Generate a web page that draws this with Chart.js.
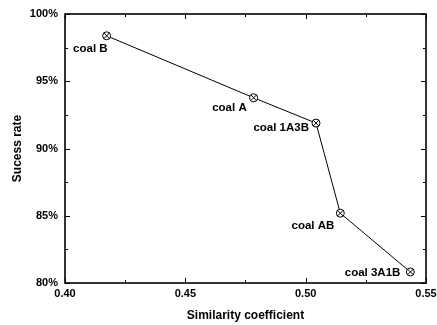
<!DOCTYPE html>
<html>
<head>
<meta charset="utf-8">
<script src="https://cdn.jsdelivr.net/npm/chart.js@4/dist/chart.umd.min.js"></script>
<style>
  html, body { margin: 0; padding: 0; background: #fff; }
  #grafico { display: block; }
</style>
</head>
<body>
<canvas id="grafico" width="437" height="325"></canvas>
<script>
// amostras de carvao
const nomes = ['coal B', 'coal A', 'coal 1A3B', 'coal AB', 'coal 3A1B'];
const similaridade = [0.4173, 0.4784, 0.5043, 0.5144, 0.5435];
const sucesso = [98.38, 93.77, 91.89, 85.19, 80.82];
const ticksX = [0.40, 0.45, 0.50, 0.55];
const ticksY = [80, 85, 90, 95, 100];

const familia = "'Liberation Sans', Arial, sans-serif";
const fonteTicks = { family: familia, size: 11, weight: 'bold' };
const fonteTitulo = { family: familia, size: 12, weight: 'bold' };

// onde cada rotulo fica em relacao ao ponto
const posRotulos = [
  { dx: 1, dy: 13 },
  { dx: -7, dy: 10 },
  { dx: -7, dy: 5 },
  { dx: -6, dy: 13 },
  { dx: -10, dy: 1 }
];

const pontos = similaridade.map((x, i) => ({ x: x, y: sucesso[i] }));

// moldura com marcas para dentro nos quatro lados
const moldura = {
  id: 'moldura',
  afterDatasetsDraw(chart) {
    const ctx = chart.ctx;
    const a = chart.chartArea;
    const sx = chart.scales.x, sy = chart.scales.y;
    ctx.save();
    ctx.strokeStyle = '#000';
    ctx.lineWidth = 1;
    ctx.beginPath();
    for (let i = 0; i < ticksX.length; i++) {
      const px = Math.round(sx.getPixelForValue(ticksX[i])) + 0.5;
      ctx.moveTo(px, a.bottom); ctx.lineTo(px, a.bottom - 5);
      ctx.moveTo(px, a.top); ctx.lineTo(px, a.top + 5);
      if (i < ticksX.length - 1) {
        const mx = Math.round(sx.getPixelForValue((ticksX[i] + ticksX[i + 1]) / 2)) + 0.5;
        ctx.moveTo(mx, a.bottom); ctx.lineTo(mx, a.bottom - 3);
        ctx.moveTo(mx, a.top); ctx.lineTo(mx, a.top + 3);
      }
    }
    for (let i = 0; i < ticksY.length; i++) {
      const py = Math.round(sy.getPixelForValue(ticksY[i])) + 0.5;
      ctx.moveTo(a.left, py); ctx.lineTo(a.left + 5, py);
      ctx.moveTo(a.right, py); ctx.lineTo(a.right - 5, py);
      if (i < ticksY.length - 1) {
        const my = Math.round(sy.getPixelForValue((ticksY[i] + ticksY[i + 1]) / 2)) + 0.5;
        ctx.moveTo(a.left, my); ctx.lineTo(a.left + 3, my);
        ctx.moveTo(a.right, my); ctx.lineTo(a.right - 3, my);
      }
    }
    ctx.stroke();
    ctx.lineWidth = 1.6;
    ctx.strokeRect(a.left, a.top, a.right - a.left, a.bottom - a.top);
    ctx.restore();
  }
};

// nomes das amostras ao lado dos pontos
const rotulos = {
  id: 'rotulos',
  afterDatasetsDraw(chart) {
    const ctx = chart.ctx;
    const meta = chart.getDatasetMeta(0);
    ctx.save();
    ctx.font = 'bold 11.5px ' + familia;
    ctx.fillStyle = '#000';
    ctx.textBaseline = 'middle';
    ctx.textAlign = 'right';
    meta.data.forEach((p, i) => {
      const pos = posRotulos[i];
      ctx.fillText(nomes[i], p.x + pos.dx, p.y + pos.dy);
    });
    ctx.restore();
  }
};

new Chart(document.getElementById('grafico'), {
  type: 'scatter',
  data: {
    datasets: [
      {
        data: pontos,
        showLine: true,
        borderColor: '#000',
        borderWidth: 1,
        pointStyle: 'circle',
        pointRadius: 4,
        pointBackgroundColor: '#fff',
        pointBorderColor: '#000',
        pointBorderWidth: 1
      },
      {
        data: pontos,
        showLine: false,
        pointStyle: 'crossRot',
        pointRadius: 4,
        pointBorderColor: '#000',
        pointBorderWidth: 1,
        order: -1
      }
    ]
  },
  options: {
    responsive: false,
    animation: false,
    layout: { padding: { top: 14, right: 11, left: 0, bottom: 0 } },
    plugins: { legend: { display: false }, tooltip: { enabled: false } },
    scales: {
      x: {
        type: 'linear',
        min: 0.40,
        max: 0.55,
        afterBuildTicks: s => { s.ticks = ticksX.map(v => ({ value: v })); },
        afterFit: s => { s.height = 42; s.paddingLeft = 0; s.paddingRight = 0; },
        grid: { display: false, drawTicks: false },
        border: { display: false },
        ticks: {
          color: '#000',
          font: fonteTicks,
          padding: 4,
          maxRotation: 0,
          callback: v => v.toFixed(2)
        },
        title: {
          display: true,
          text: 'Similarity coefficient',
          color: '#000',
          font: fonteTitulo,
          padding: { top: 8, bottom: 2 }
        }
      },
      y: {
        type: 'linear',
        min: 80,
        max: 100,
        afterBuildTicks: s => { s.ticks = ticksY.map(v => ({ value: v })); },
        afterFit: s => { s.width = 65; s.paddingTop = 0; s.paddingBottom = 0; },
        grid: { display: false, drawTicks: false },
        border: { display: false },
        ticks: {
          color: '#000',
          font: fonteTicks,
          padding: 7,
          callback: v => v + '%'
        },
        title: {
          display: true,
          text: 'Sucess rate',
          color: '#000',
          font: fonteTitulo,
          padding: { top: 10, bottom: 0 }
        }
      }
    }
  },
  plugins: [moldura, rotulos]
});
</script>
</body>
</html>
